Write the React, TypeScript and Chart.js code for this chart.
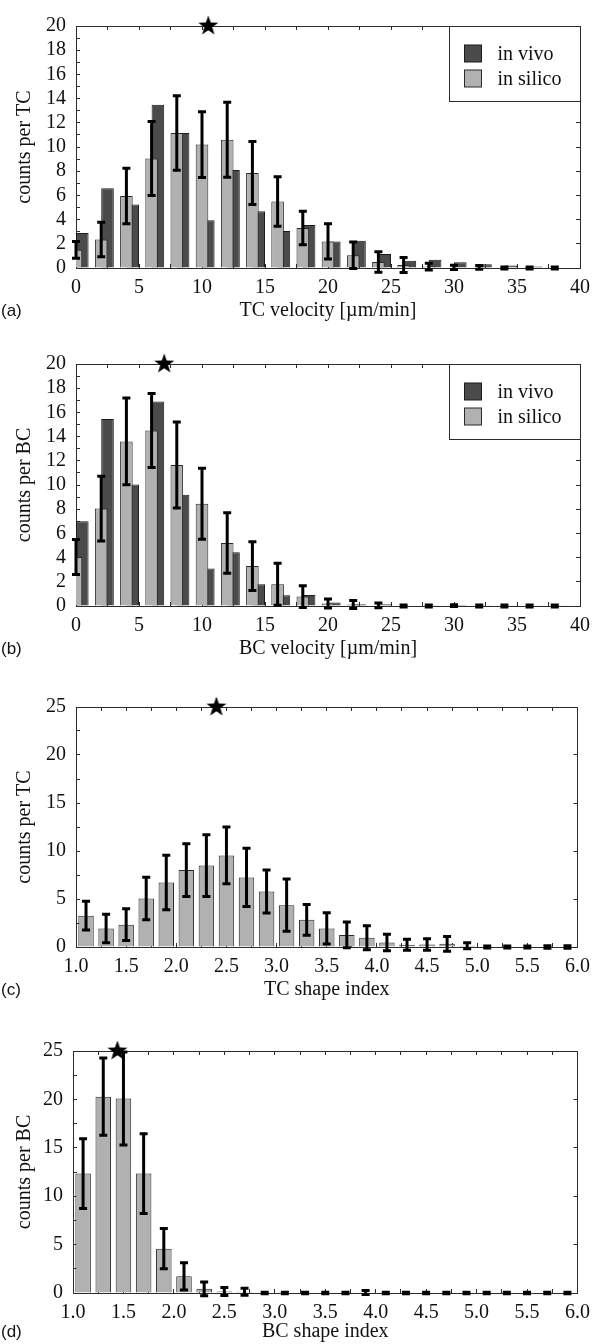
import { useEffect, useRef } from "react";
import { Chart, registerables } from "chart.js";

Chart.register(...registerables);

// ---------------- data ----------------
const seriesLabels = ["in vivo", "in silico"];

// velocity histograms: bin left edges [µm/min]
const velocityBins = [0, 2, 4, 6, 8, 10, 12, 14, 16, 18, 20, 22, 24, 26, 28, 30, 32, 34, 36, 38];

const tcVelVivo = [2.9, 6.6, 5.25, 13.5, 11.15, 3.95, 8.1, 4.7, 3.05, 3.55, 2.2, 2.25, 1.15, 0.6, 0.68, 0.47, 0.32, 0.2, 0.12, 0.05];
const tcVelSilico = [1.5, 2.35, 5.95, 9.05, 11.15, 10.2, 10.6, 7.85, 5.5, 3.3, 2.2, 1.05, 0.5, 0.25, 0.12, 0.05, 0.05, 0, 0, 0];
const tcVelSilicoErr = [0.7, 1.43, 2.3, 3.05, 3.08, 2.72, 3.1, 2.6, 2.05, 1.38, 1.45, 1.1, 0.85, 0.62, 0.28, 0.18, 0.15, 0.08, 0.08, 0.08];
const tcVelStar = [10.5, 20];

const bcVelVivo = [7.0, 15.45, 10.05, 16.9, 9.2, 3.1, 4.45, 1.8, 0.88, 0.9, 0.28, 0.15, 0.15, 0.05, 0.03, 0.08, 0.02, 0.02, 0.02, 0.02];
const bcVelSilico = [4.05, 8.05, 13.6, 14.5, 11.65, 8.45, 5.2, 3.3, 1.8, 0.78, 0.2, 0.12, 0.05, 0, 0, 0.03, 0, 0, 0, 0];
const bcVelSilicoErr = [1.45, 2.68, 3.58, 3.06, 3.55, 2.93, 2.5, 2.02, 1.74, 0.9, 0.37, 0.33, 0.2, 0.08, 0.08, 0.08, 0.08, 0.08, 0.08, 0.08];
const bcVelStar = [7.0, 20];

// shape index histograms: bin centres
const shapeBins = [1.1, 1.3, 1.5, 1.7, 1.9, 2.1, 2.3, 2.5, 2.7, 2.9, 3.1, 3.3, 3.5, 3.7, 3.9, 4.1, 4.3, 4.5, 4.7, 4.9, 5.1, 5.3, 5.5, 5.7, 5.9];

const tcShapeSilico = [3.26, 1.93, 2.33, 5.05, 6.72, 8.01, 8.48, 9.54, 7.25, 5.78, 4.36, 2.83, 1.93, 1.26, 0.96, 0.47, 0.23, 0.27, 0.33, 0.13, 0, 0, 0, 0, 0];
const tcShapeSilicoErr = [1.5, 1.48, 1.66, 2.22, 2.84, 2.75, 3.22, 2.96, 3.04, 2.25, 2.72, 1.61, 1.63, 1.35, 1.25, 0.87, 0.57, 0.6, 0.77, 0.32, 0.1, 0.1, 0.1, 0.13, 0.13];
const tcShapeStar = [2.4, 25];

const bcShapeSilico = [12.34, 20.28, 20.09, 12.34, 4.58, 1.72, 0.43, 0.16, 0.13, 0, 0, 0, 0, 0, 0.05, 0, 0, 0, 0, 0, 0, 0, 0, 0, 0];
const bcShapeSilicoErr = [3.6, 3.99, 4.8, 4.12, 2.08, 1.4, 0.71, 0.42, 0.37, 0.08, 0.08, 0.08, 0.08, 0.08, 0.2, 0.08, 0.08, 0.08, 0.08, 0.08, 0.08, 0.08, 0.08, 0.08, 0.08];
const bcShapeStar = [1.44, 25];

// ---------------- styling ----------------
const SERIF = "'Liberation Serif', 'Times New Roman', serif";
const SANS = "'Liberation Sans', Arial, sans-serif";
const VIVO_FILL = "#4b4b4b";
const VIVO_BORDER = "#1c1c1c";
const SILICO_FILL = "#b1b1b1";
const SILICO_BORDER = "#2a2a2a";
const FRAME = "#2b2b2b";

function makeStar(): HTMLCanvasElement {
  const size = 24;
  const outer = 10.5;
  const inner = 4.2;
  const c = document.createElement("canvas");
  c.width = size;
  c.height = size;
  const ctx = c.getContext("2d")!;
  ctx.beginPath();
  for (let i = 0; i < 10; i++) {
    const r = i % 2 === 0 ? outer : inner;
    const a = -Math.PI / 2 + (i * Math.PI) / 5;
    const px = size / 2 + r * Math.cos(a);
    const py = size / 2 + r * Math.sin(a);
    if (i === 0) ctx.moveTo(px, py);
    else ctx.lineTo(px, py);
  }
  ctx.closePath();
  ctx.fillStyle = "#000";
  ctx.fill();
  return c;
}

const errorBarPlugin = {
  id: "errorBars",
  afterDatasetDraw(chart: any, args: any) {
    const ds = chart.data.datasets[args.index];
    if (!ds || !ds.errors) return;
    const yScale = chart.scales.y;
    const ctx = chart.ctx;
    ctx.save();
    ctx.strokeStyle = "#000";
    ctx.lineWidth = 3;
    ctx.lineCap = "butt";
    args.meta.data.forEach((bar: any, i: number) => {
      const v = ds.data[i].y;
      const e = ds.errors[i];
      const x = bar.x;
      const yHi = yScale.getPixelForValue(v + e);
      const yLo = yScale.getPixelForValue(v - e);
      ctx.beginPath();
      ctx.moveTo(x, yHi);
      ctx.lineTo(x, yLo);
      ctx.moveTo(x - 4, yHi);
      ctx.lineTo(x + 4, yHi);
      ctx.moveTo(x - 4, yLo);
      ctx.lineTo(x + 4, yLo);
      ctx.stroke();
    });
    ctx.restore();
  },
};

const boxLegendPlugin = {
  id: "boxLegend",
  afterDraw(chart: any, _args: any, opts: any) {
    if (!opts || !opts.display) return;
    const { ctx, chartArea } = chart;
    const w = opts.width;
    const h = opts.height;
    const x0 = Math.round(chartArea.right - w) + 0.5;
    const y0 = Math.round(chartArea.top) + 0.5;
    ctx.save();
    ctx.fillStyle = "#fff";
    ctx.fillRect(x0, y0, w, h);
    ctx.strokeStyle = FRAME;
    ctx.lineWidth = 1;
    ctx.strokeRect(x0, y0, w, h);
    const items = chart.data.datasets.filter((d: any) => d.type === "bar" && d.label);
    items.forEach((d: any, i: number) => {
      const cy = y0 + opts.firstRow + i * opts.rowGap;
      const px = x0 + opts.patchLeft;
      ctx.fillStyle = d.backgroundColor;
      ctx.fillRect(px, cy - opts.patch / 2, opts.patch, opts.patch);
      ctx.strokeStyle = d.borderColor;
      ctx.strokeRect(px, cy - opts.patch / 2, opts.patch, opts.patch);
      ctx.fillStyle = "#111";
      ctx.font = `20px ${SERIF}`;
      ctx.textBaseline = "middle";
      ctx.textAlign = "left";
      ctx.fillText(d.label, x0 + opts.textLeft, cy + 1);
    });
    ctx.restore();
  },
};

type Panel = {
  letter: string;
  top: number;
  height: number;
  padTop: number;
  padRight: number;
  yAxisW: number;
  xAxisH: number;
  titlePadBottom: number;
  xMin: number;
  xMax: number;
  xStep: number;
  xLabelEvery: number;
  xDecimals: number;
  yMax: number;
  yStepLeft: number;
  yStepRight: number;
  yLabelEvery: number;
  xTitle: string;
  yTitle: string;
  bins: number[];
  vivo: number[] | null;
  silico: number[];
  err: number[];
  star: number[];
  silicoOffset: number;
  vivoOffset: number;
  barPct: number;
  legend: boolean;
  labelCenter: number;
};

const panels: Panel[] = [
  {
    letter: "(a)", top: 0, height: 325, padTop: 15, padRight: 20, yAxisW: 76, xAxisH: 57, titlePadBottom: 2,
    xMin: 0, xMax: 40, xStep: 2.5, xLabelEvery: 5, xDecimals: 0,
    yMax: 20, yStepLeft: 1, yStepRight: 2, yLabelEvery: 2,
    xTitle: "TC velocity [µm/min]", yTitle: "counts per TC",
    bins: velocityBins, vivo: tcVelVivo, silico: tcVelSilico, err: tcVelSilicoErr, star: tcVelStar,
    silicoOffset: 0, vivoOffset: 0.5, barPct: 2, legend: true, labelCenter: 311,
  },
  {
    letter: "(b)", top: 338, height: 325, padTop: 15, padRight: 20, yAxisW: 76, xAxisH: 57, titlePadBottom: 2,
    xMin: 0, xMax: 40, xStep: 2.5, xLabelEvery: 5, xDecimals: 0,
    yMax: 20, yStepLeft: 1, yStepRight: 2, yLabelEvery: 2,
    xTitle: "BC velocity [µm/min]", yTitle: "counts per BC",
    bins: velocityBins, vivo: bcVelVivo, silico: bcVelSilico, err: bcVelSilicoErr, star: bcVelStar,
    silicoOffset: 0, vivoOffset: 0.5, barPct: 2, legend: true, labelCenter: 649,
  },
  {
    letter: "(c)", top: 681, height: 323, padTop: 15, padRight: 23, yAxisW: 76, xAxisH: 57, titlePadBottom: 2,
    xMin: 1, xMax: 6, xStep: 0.25, xLabelEvery: 0.5, xDecimals: 1,
    yMax: 25, yStepLeft: 2.5, yStepRight: 5, yLabelEvery: 5,
    xTitle: "TC shape index", yTitle: "counts per TC",
    bins: shapeBins, vivo: null, silico: tcShapeSilico, err: tcShapeSilicoErr, star: tcShapeStar,
    silicoOffset: 0, vivoOffset: 0, barPct: 0.77, legend: false, labelCenter: 990,
  },
  {
    letter: "(d)", top: 1025, height: 319, padTop: 15, padRight: 23, yAxisW: 73, xAxisH: 51, titlePadBottom: 0,
    xMin: 1, xMax: 6, xStep: 0.25, xLabelEvery: 0.5, xDecimals: 1,
    yMax: 25, yStepLeft: 2.5, yStepRight: 5, yLabelEvery: 5,
    xTitle: "BC shape index", yTitle: "counts per BC",
    bins: shapeBins, vivo: null, silico: bcShapeSilico, err: bcShapeSilicoErr, star: bcShapeStar,
    silicoOffset: 0, vivoOffset: 0, barPct: 0.77, legend: false, labelCenter: 1332,
  },
];

function isMultiple(v: number, step: number) {
  const r = v / step;
  return Math.abs(r - Math.round(r)) < 1e-6;
}

function buildConfig(p: Panel, star: HTMLCanvasElement): any {
  const datasets: any[] = [];
  if (p.vivo) {
    datasets.push({
      type: "bar",
      label: seriesLabels[0],
      data: p.bins.map((b, i) => ({ x: b + p.vivoOffset, y: p.vivo![i] })),
      backgroundColor: VIVO_FILL,
      borderColor: VIVO_BORDER,
      borderWidth: 1,
      grouped: false,
      categoryPercentage: 1,
      barPercentage: p.barPct,
      order: 3,
    });
  }
  datasets.push({
    type: "bar",
    label: p.vivo ? seriesLabels[1] : "",
    data: p.bins.map((b, i) => ({ x: b + p.silicoOffset, y: p.silico[i] })),
    errors: p.err,
    backgroundColor: SILICO_FILL,
    borderColor: SILICO_BORDER,
    borderWidth: 1,
    grouped: false,
    categoryPercentage: 1,
    barPercentage: p.barPct,
    order: 2,
  });
  datasets.push({
    type: "scatter",
    label: "",
    data: [{ x: p.star[0], y: p.star[1] }],
    pointStyle: star,
    pointRadius: 10,
    clip: false,
    order: 1,
  });

  const tickFont = { family: SERIF, size: 20 };
  const gridBase = {
    drawOnChartArea: false,
    drawTicks: true,
    tickLength: -4,
    color: FRAME,
    tickColor: FRAME,
    lineWidth: 1,
    offset: false,
  };
  const border = { display: true, color: FRAME, width: 1 };

  return {
    type: "bar",
    data: { datasets },
    plugins: [errorBarPlugin, boxLegendPlugin],
    options: {
      responsive: false,
      animation: false,
      devicePixelRatio: 1,
      events: [],
      layout: { padding: { top: p.padTop, right: p.padRight, left: 0, bottom: 0 } },
      plugins: {
        legend: { display: false },
        tooltip: { enabled: false },
        boxLegend: {
          display: p.legend, width: 131, height: 75,
          patch: 17, patchLeft: 15, textLeft: 48, firstRow: 27, rowGap: 25,
        },
      },
      scales: {
        x: {
          type: "linear",
          position: "bottom",
          min: p.xMin,
          max: p.xMax,
          offset: false,
          grid: gridBase,
          border,
          ticks: {
            stepSize: p.xStep,
            autoSkip: false,
            maxRotation: 0,
            minRotation: 0,
            padding: 12,
            color: "#111",
            font: tickFont,
            callback: (v: number) => (isMultiple(v, p.xLabelEvery) ? v.toFixed(p.xDecimals) : ""),
          },
          title: {
            display: true,
            text: p.xTitle,
            color: "#111",
            font: { family: SERIF, size: 20 },
            padding: { top: 0, bottom: p.titlePadBottom },
          },
          afterFit: (s: any) => { s.height = p.xAxisH; },
        },
        x2: {
          type: "linear",
          position: "top",
          min: p.xMin,
          max: p.xMax,
          offset: false,
          grid: gridBase,
          border,
          ticks: { display: false, stepSize: p.xStep, autoSkip: false, maxRotation: 0 },
          afterFit: (s: any) => { s.height = 0; },
        },
        y: {
          type: "linear",
          position: "left",
          min: 0,
          max: p.yMax,
          grid: gridBase,
          border,
          ticks: {
            stepSize: p.yStepLeft,
            autoSkip: false,
            padding: 14,
            color: "#111",
            font: tickFont,
            callback: (v: number) => (isMultiple(v, p.yLabelEvery) ? String(v) : ""),
          },
          title: {
            display: true,
            text: p.yTitle,
            color: "#111",
            font: { family: SERIF, size: 20 },
            padding: { top: 13, bottom: 0 },
          },
          afterFit: (s: any) => { s.width = p.yAxisW; },
        },
        y2: {
          type: "linear",
          position: "right",
          min: 0,
          max: p.yMax,
          grid: gridBase,
          border,
          ticks: { display: false, stepSize: p.yStepRight, autoSkip: false },
          afterFit: (s: any) => { s.width = 0; },
        },
      },
    },
  };
}

function PanelChart({ p }: { p: Panel }) {
  const ref = useRef<HTMLCanvasElement | null>(null);
  useEffect(() => {
    if (!ref.current) return;
    const chart = new Chart(ref.current, buildConfig(p, makeStar()));
    return () => chart.destroy();
  }, [p]);
  return (
    <canvas
      ref={ref}
      width={602}
      height={p.height}
      style={{ position: "absolute", left: 0, top: p.top, width: 602, height: p.height }}
    />
  );
}

export default function App() {
  return (
    <div
      style={{
        position: "absolute",
        left: 0,
        top: 0,
        width: 602,
        height: 1344,
        overflow: "hidden",
        background: "#fff",
      }}
    >
      {panels.map((p) => (
        <PanelChart key={p.letter} p={p} />
      ))}
      {panels.map((p) => (
        <div
          key={p.letter + "-label"}
          style={{
            position: "absolute",
            left: 1,
            top: p.labelCenter - 10,
            height: 20,
            lineHeight: "20px",
            fontFamily: SANS,
            fontSize: 17,
            color: "#111",
          }}
        >
          {p.letter}
        </div>
      ))}
    </div>
  );
}
